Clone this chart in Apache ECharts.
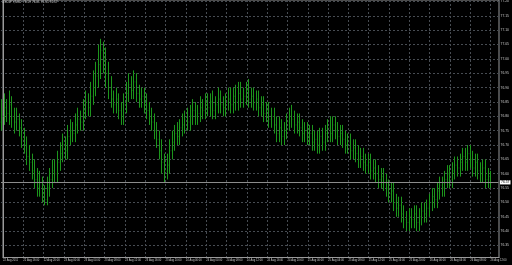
<!DOCTYPE html>
<html>
<head>
<meta charset="utf-8">
<script src="https://cdn.jsdelivr.net/npm/echarts@6/dist/echarts.min.js"></script>
<style>html,body{margin:0;padding:0;background:#000;}#c{width:512px;height:265px;}</style>
</head>
<body>
<div id="c"></div>
<script>
const symbolTitle = "USDJPY,M30  76.59 76.61 76.55 76.57";
const tickLabels = ["22 Aug 2011","22 Aug 16:00","22 Aug 20:00","23 Aug 00:00","23 Aug 04:00","23 Aug 08:00","23 Aug 12:00","23 Aug 16:00","23 Aug 20:00","24 Aug 00:00","24 Aug 04:00","24 Aug 08:00","24 Aug 12:00","24 Aug 16:00","24 Aug 20:00","25 Aug 00:00","25 Aug 04:00","25 Aug 08:00","25 Aug 12:00","25 Aug 16:00","25 Aug 20:00","26 Aug 00:00","26 Aug 04:00","26 Aug 08:00","26 Aug 12:00"];
const lastPrice = 76.57;

const openP = [
76.78,76.80,76.83,76.81,76.84,76.80,76.78,76.79,
76.76,76.72,76.70,76.66,76.64,76.61,76.58,76.55,
76.57,76.53,76.51,76.55,76.58,76.61,76.60,76.64,
76.67,76.70,76.68,76.73,76.75,76.74,76.77,76.79,
76.78,76.82,76.85,76.83,76.87,76.90,76.94,76.98,
77.03,77.00,76.95,76.90,76.86,76.84,76.86,76.82,
76.80,76.84,76.88,76.91,76.89,76.92,76.88,76.86,
76.87,76.84,76.82,76.80,76.78,76.75,76.72,76.68,
76.64,76.61,76.63,76.68,76.71,76.74,76.73,76.76,
76.77,76.79,76.78,76.80,76.82,76.80,76.81,76.83,
76.82,76.84,76.83,76.85,76.82,76.84,76.86,76.84,
76.83,76.85,76.86,76.84,76.87,76.85,76.88,76.86,
76.87,76.89,76.86,76.87,76.85,76.86,76.83,76.84,
76.81,76.82,76.79,76.80,76.77,76.74,76.76,76.73,
76.75,76.78,76.80,76.79,76.77,76.78,76.76,76.74,
76.75,76.73,76.74,76.71,76.72,76.70,76.73,76.71,
76.74,76.76,76.74,76.77,76.75,76.73,76.74,76.72,
76.70,76.71,76.68,76.69,76.67,76.65,76.66,76.64,
76.63,76.64,76.61,76.62,76.60,76.58,76.59,76.57,
76.55,76.53,76.54,76.50,76.48,76.49,76.46,76.44,
76.43,76.45,76.44,76.46,76.43,76.45,76.47,76.46,
76.48,76.50,76.52,76.51,76.54,76.56,76.55,76.58,
76.60,76.58,76.61,76.63,76.62,76.64,76.66,76.64,
76.67,76.65,76.62,76.64,76.61,76.60,76.62,76.58,
76.59];
const highP = [
76.86,76.88,76.86,76.89,76.87,76.83,76.83,76.81,
76.79,76.76,76.73,76.70,76.67,76.65,76.62,76.61,
76.59,76.56,76.59,76.62,76.65,76.65,76.68,76.71,
76.74,76.73,76.77,76.79,76.78,76.81,76.83,76.82,
76.86,76.89,76.88,76.92,76.96,76.99,77.05,77.07,
77.06,77.04,76.99,76.94,76.89,76.90,76.88,76.85,
76.88,76.92,76.95,76.94,76.96,76.95,76.91,76.90,
76.90,76.88,76.85,76.83,76.81,76.78,76.75,76.72,
76.67,76.67,76.72,76.75,76.77,76.78,76.79,76.81,
76.82,76.83,76.84,76.86,76.85,76.84,76.87,76.86,
76.88,76.88,76.88,76.89,76.87,76.90,76.89,76.87,
76.88,76.90,76.90,76.90,76.91,76.92,76.92,76.90,
76.92,76.93,76.90,76.90,76.89,76.89,76.87,76.87,
76.85,76.85,76.83,76.83,76.80,76.80,76.79,76.78,
76.81,76.83,76.84,76.82,76.81,76.81,76.79,76.78,
76.78,76.77,76.77,76.75,76.75,76.76,76.76,76.77,
76.79,76.80,76.80,76.80,76.78,76.77,76.77,76.75,
76.74,76.74,76.72,76.72,76.70,76.69,76.69,76.67,
76.67,76.67,76.65,76.65,76.63,76.62,76.62,76.60,
76.58,76.57,76.57,76.53,76.52,76.52,76.49,76.47,
76.48,76.48,76.49,76.49,76.48,76.50,76.50,76.51,
76.53,76.55,76.55,76.57,76.59,76.59,76.61,76.63,
76.63,76.64,76.66,76.66,76.67,76.69,76.69,76.70,
76.70,76.68,76.67,76.67,76.64,76.65,76.65,76.62,
76.61];
const lowP = [
76.75,76.77,76.78,76.77,76.76,76.74,76.75,76.73,
76.69,76.67,76.63,76.61,76.58,76.55,76.52,76.52,
76.50,76.49,76.49,76.52,76.55,76.57,76.57,76.61,
76.64,76.65,76.65,76.70,76.71,76.71,76.74,76.75,
76.75,76.79,76.80,76.80,76.84,76.87,76.90,76.93,
76.95,76.90,76.86,76.83,76.81,76.81,76.79,76.77,
76.77,76.81,76.85,76.86,76.86,76.85,76.83,76.83,
76.81,76.79,76.77,76.75,76.72,76.69,76.65,76.60,
76.57,76.58,76.60,76.65,76.68,76.70,76.70,76.73,
76.74,76.75,76.75,76.77,76.77,76.77,76.78,76.79,
76.79,76.80,76.80,76.79,76.79,76.81,76.81,76.80,
76.80,76.82,76.81,76.81,76.82,76.82,76.83,76.83,
76.84,76.83,76.83,76.82,76.82,76.80,76.80,76.78,
76.78,76.76,76.76,76.74,76.71,76.71,76.70,76.70,
76.72,76.75,76.76,76.74,76.74,76.73,76.71,76.71,
76.70,76.70,76.68,76.68,76.67,76.67,76.68,76.68,
76.71,76.71,76.71,76.72,76.70,76.70,76.69,76.67,
76.67,76.65,76.65,76.64,76.62,76.62,76.61,76.60,
76.60,76.58,76.58,76.57,76.55,76.55,76.54,76.52,
76.50,76.50,76.47,76.45,76.45,76.43,76.41,76.40,
76.40,76.41,76.41,76.40,76.40,76.42,76.43,76.43,
76.45,76.47,76.48,76.48,76.51,76.52,76.52,76.55,
76.55,76.55,76.58,76.59,76.59,76.61,76.61,76.61,
76.62,76.59,76.59,76.58,76.57,76.57,76.55,76.55,
76.55];
const closeP = [
76.80,76.83,76.81,76.84,76.80,76.78,76.79,76.76,
76.72,76.70,76.66,76.64,76.61,76.58,76.55,76.57,
76.53,76.51,76.55,76.58,76.61,76.60,76.64,76.67,
76.70,76.68,76.73,76.75,76.74,76.77,76.79,76.78,
76.82,76.85,76.83,76.87,76.90,76.94,76.98,77.03,
77.00,76.95,76.90,76.86,76.84,76.86,76.82,76.80,
76.84,76.88,76.91,76.89,76.92,76.88,76.86,76.87,
76.84,76.82,76.80,76.78,76.75,76.72,76.68,76.64,
76.61,76.63,76.68,76.71,76.74,76.73,76.76,76.77,
76.79,76.78,76.80,76.82,76.80,76.81,76.83,76.82,
76.84,76.83,76.85,76.82,76.84,76.86,76.84,76.83,
76.85,76.86,76.84,76.87,76.85,76.88,76.86,76.87,
76.89,76.86,76.87,76.85,76.86,76.83,76.84,76.81,
76.82,76.79,76.80,76.77,76.74,76.76,76.73,76.75,
76.78,76.80,76.79,76.77,76.78,76.76,76.74,76.75,
76.73,76.74,76.71,76.72,76.70,76.73,76.71,76.74,
76.76,76.74,76.77,76.75,76.73,76.74,76.72,76.70,
76.71,76.68,76.69,76.67,76.65,76.66,76.64,76.63,
76.64,76.61,76.62,76.60,76.58,76.59,76.57,76.55,
76.53,76.54,76.50,76.48,76.49,76.46,76.44,76.43,
76.45,76.44,76.46,76.43,76.45,76.47,76.46,76.48,
76.50,76.52,76.51,76.54,76.56,76.55,76.58,76.60,
76.58,76.61,76.63,76.62,76.64,76.66,76.64,76.67,
76.65,76.62,76.64,76.61,76.60,76.62,76.58,76.59,
76.57];

const BAR = '#1c961c';
const GRIDC = '#474c52';
const FRAME = '#9a9a9a';
const TXT = '#c8c8c8';

const bars = closeP.map((c, i) => [i, openP[i], highP[i], lowP[i], c]);

const chart = echarts.init(document.getElementById('c'), null, {renderer: 'canvas'});
chart.setOption({
  backgroundColor: '#000',
  animation: false,
  grid: [
    {left: 1, right: 13, top: 0.5, bottom: 19.5},
    {left: 1, right: 13, top: 0, bottom: 7.5, show: true, borderColor: FRAME, borderWidth: 1, backgroundColor: 'transparent'}
  ],
  xAxis: [
    {type: 'value', gridIndex: 0, min: 0, max: 195.3, show: false},
    {type: 'value', gridIndex: 1, min: 0, max: 195.3, interval: 8,
     axisLine: {show: true, lineStyle: {color: FRAME, width: 1}},
     axisTick: {show: false},
     splitLine: {show: true, lineStyle: {color: GRIDC, type: [2, 2], width: 1}},
     axisLabel: {show: true, color: TXT, fontSize: 2.7, fontFamily: 'Liberation Sans', align: 'left', margin: 1.5,
       showMaxLabel: false,
       formatter: function (v) { const k = v / 8; return (Number.isInteger(k) && tickLabels[k]) ? tickLabels[k] : ''; }}
    }
  ],
  yAxis: [
    {type: 'value', gridIndex: 0, position: 'right', min: 76.35, max: 77.20, interval: 0.05,
     axisLine: {show: false}, axisTick: {show: false},
     splitLine: {show: true, lineStyle: {color: GRIDC, type: [2, 2], width: 1}},
     axisLabel: {show: true, color: TXT, fontSize: 3.4, fontFamily: 'Liberation Sans', margin: 2,
       formatter: function (v) { return v.toFixed(2); }}
    },
    {type: 'value', gridIndex: 1, position: 'right', min: 0, max: 1,
     axisLine: {show: true, lineStyle: {color: FRAME, width: 1}},
     axisTick: {show: false}, axisLabel: {show: false}, splitLine: {show: false}}
  ],
  graphic: [
    {type: 'text', left: 2, top: 0.5, z: 100,
     style: {text: symbolTitle, fill: TXT, font: '3.2px "Liberation Sans"'}}
  ],
  series: [
    {
      type: 'custom',
      xAxisIndex: 0, yAxisIndex: 0,
      data: bars,
      encode: {x: 0, y: [1, 2, 3, 4]},
      renderItem: function (params, api) {
        const idx = api.value(0);
        const pO = api.coord([idx, api.value(1)]);
        const pH = api.coord([idx, api.value(2)]);
        const pL = api.coord([idx, api.value(3)]);
        const pC = api.coord([idx, api.value(4)]);
        const xs = Math.round(pO[0]) + 0.5;
        const st = {stroke: BAR, lineWidth: 1};
        const tick = {stroke: '#115c11', lineWidth: 1};
        return {type: 'group', children: [
          {type: 'line', shape: {x1: xs, y1: pH[1], x2: xs, y2: pL[1]}, style: st},
          {type: 'line', shape: {x1: xs - 0.8, y1: pO[1], x2: xs - 0.5, y2: pO[1]}, style: tick},
          {type: 'line', shape: {x1: xs + 0.5, y1: pC[1], x2: xs + 0.8, y2: pC[1]}, style: tick}
        ]};
      },
      markLine: {
        silent: true, symbol: 'none',
        lineStyle: {color: '#8c8c8c', type: 'solid', width: 1},
        label: {show: true, position: 'end', distance: 1.5, formatter: function () { return lastPrice.toFixed(2); },
          color: '#000', backgroundColor: '#fff', fontSize: 3.4, fontFamily: 'Liberation Sans', padding: [0.6, 1]},
        data: [{yAxis: lastPrice}]
      }
    }
  ]
});
</script>
</body>
</html>
